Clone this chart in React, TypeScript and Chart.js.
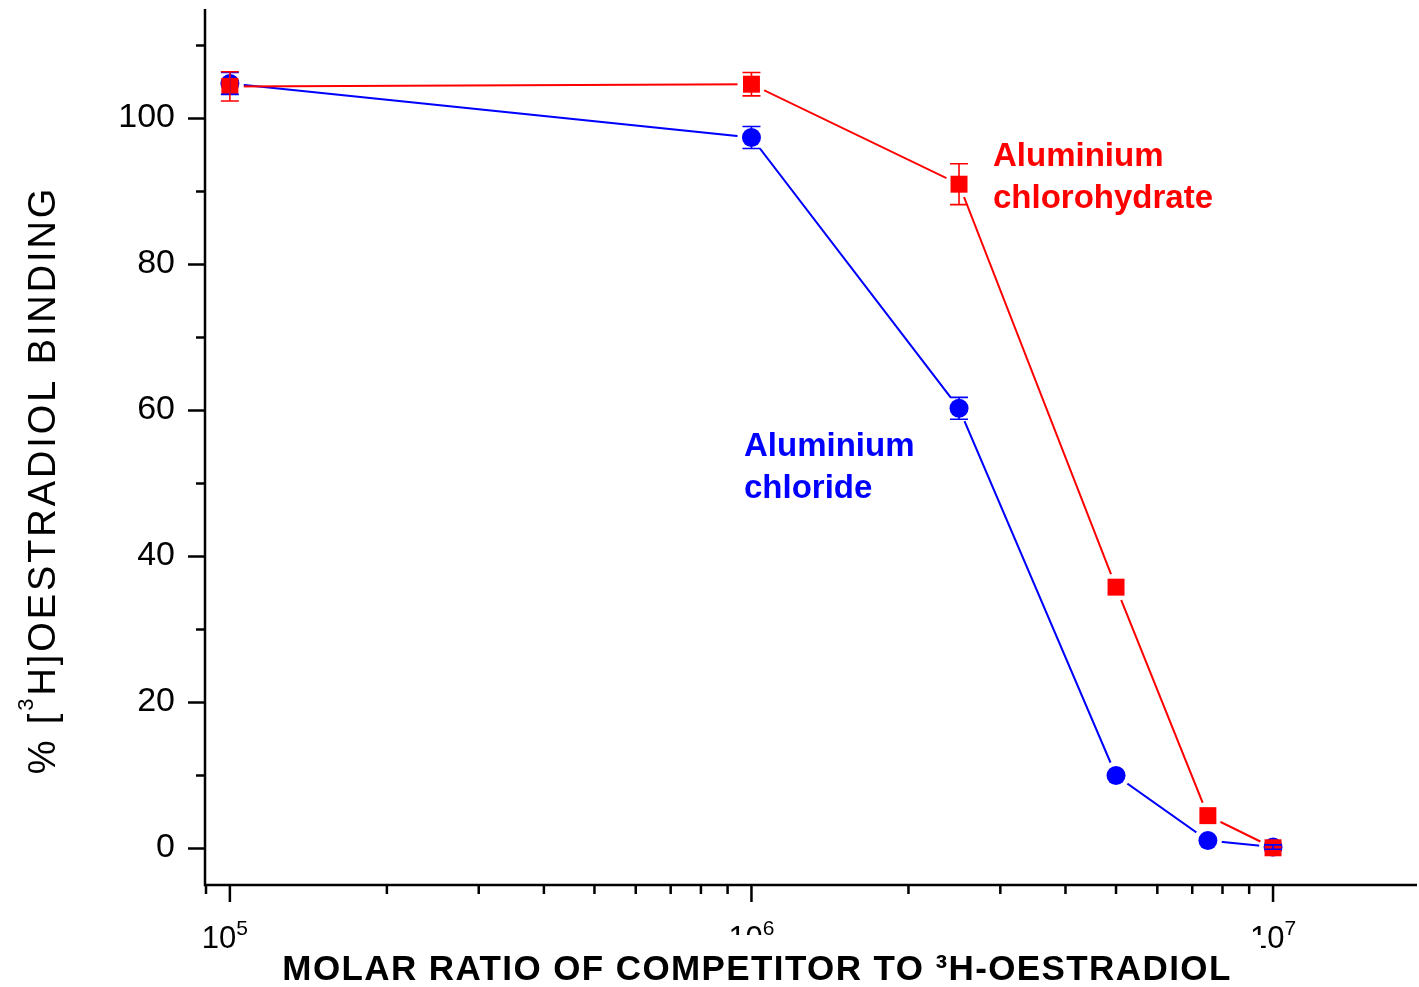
import React, { useEffect, useRef } from "react";
import { Chart, registerables } from "chart.js";

Chart.register(...registerables);

// ---- Data ----
const ratios = [1e5, 1e6, 2.5e6, 5e6, 7.5e6, 1e7];
const chlorohydrate = [104.4, 104.7, 91.0, 35.8, 4.5, 0.1];
const chlorohydrateErr = [2.0, 1.6, 2.8, 0, 0, 0];
const chloride = [104.8, 97.4, 60.3, 10.0, 1.1, 0.2];
const chlorideErr = [1.5, 1.5, 1.5, 0, 0, 0.3];

const xMajorTicks = [1e5, 1e6, 1e7];
const xTickExponents = ["5", "6", "7"];
const xMinorTicks = [
  9e4, 2e5, 3e5, 4e5, 5e5, 6e5, 7e5, 8e5, 9e5,
  2e6, 3e6, 4e6, 5e6, 6e6, 7e6, 8e6, 9e6,
];
const yMajorTicks = [0, 20, 40, 60, 80, 100];
const yMinorTicks = [10, 30, 50, 70, 90, 110];

const xTitle = "MOLAR RATIO OF COMPETITOR TO \u00B3H-OESTRADIOL";
const yTitleParts = ["% [", "3", "H]OESTRADIOL BINDING"];
const labelChlorohydrate = ["Aluminium", "chlorohydrate"];
const labelChloride = ["Aluminium", "chloride"];

const RED = "#ff0000";
const BLUE = "#0000ff";
const FONT = '"Liberation Sans", Arial, Helvetica, sans-serif';
const GAP = 14;

const seriesPoints = (vals: number[]) => ratios.map((r, i) => ({ x: r, y: vals[i] }));

// Lines stop short of the markers (gap around each point)
const lineGapPlugin = {
  id: "lineGap",
  beforeDatasetDraw(chart: any, args: any) {
    const ds = chart.data.datasets[args.index] as any;
    if (!ds.isLine) return;
    const { ctx, scales } = chart;
    ctx.save();
    ctx.beginPath();
    ctx.rect(0, 0, chart.width, chart.height);
    const vals: number[] = ds.sourceVals;
    vals.forEach((v, i) => {
      const px = scales.x.getPixelForValue(ratios[i]);
      const py = scales.y.getPixelForValue(v);
      ctx.moveTo(px + GAP, py);
      ctx.arc(px, py, GAP, 0, Math.PI * 2);
    });
    ctx.clip("evenodd");
  },
  afterDatasetDraw(chart: any, args: any) {
    const ds = chart.data.datasets[args.index] as any;
    if (!ds.isLine) return;
    chart.ctx.restore();
  },
};

const errorBarPlugin = {
  id: "errorBars",
  afterDatasetsDraw(chart: any) {
    const { ctx, scales } = chart;
    const x = scales.x;
    const y = scales.y;
    const sets = [
      { vals: chloride, errs: chlorideErr, color: BLUE },
      { vals: chlorohydrate, errs: chlorohydrateErr, color: RED },
    ];
    ctx.save();
    ctx.lineWidth = 1.6;
    for (const s of sets) {
      ctx.strokeStyle = s.color;
      s.vals.forEach((v, i) => {
        const e = s.errs[i];
        if (!e) return;
        const px = x.getPixelForValue(ratios[i]);
        const pt = y.getPixelForValue(v + e);
        const pb = y.getPixelForValue(v - e);
        ctx.beginPath();
        ctx.moveTo(px, pt);
        ctx.lineTo(px, pb);
        ctx.moveTo(px - 9, pt);
        ctx.lineTo(px + 9, pt);
        ctx.moveTo(px - 9, pb);
        ctx.lineTo(px + 9, pb);
        ctx.stroke();
      });
    }
    ctx.restore();
  },
};

const axesPlugin = {
  id: "axesDraw",
  afterDraw(chart: any) {
    const { ctx, chartArea: ca, scales } = chart;
    const x = scales.x;
    const y = scales.y;
    ctx.save();
    ctx.strokeStyle = "#000";
    ctx.fillStyle = "#000";
    ctx.lineWidth = 2.5;
    ctx.lineCap = "butt";
    ctx.beginPath();
    ctx.moveTo(ca.left, ca.top);
    ctx.lineTo(ca.left, ca.bottom + 1.25);
    ctx.moveTo(ca.left - 1.25, ca.bottom);
    ctx.lineTo(ca.right, ca.bottom);
    ctx.stroke();

    // y ticks
    ctx.beginPath();
    for (const v of yMajorTicks) {
      const py = y.getPixelForValue(v);
      ctx.moveTo(ca.left - 17, py);
      ctx.lineTo(ca.left, py);
    }
    for (const v of yMinorTicks) {
      const py = y.getPixelForValue(v);
      ctx.moveTo(ca.left - 9, py);
      ctx.lineTo(ca.left, py);
    }
    // x ticks
    for (const v of xMajorTicks) {
      const px = x.getPixelForValue(v);
      ctx.moveTo(px, ca.bottom);
      ctx.lineTo(px, ca.bottom + 17);
    }
    for (const v of xMinorTicks) {
      const px = x.getPixelForValue(v);
      ctx.moveTo(px, ca.bottom);
      ctx.lineTo(px, ca.bottom + 9);
    }
    ctx.stroke();

    // y tick labels
    ctx.font = `34px ${FONT}`;
    ctx.textAlign = "right";
    ctx.textBaseline = "middle";
    for (const v of yMajorTicks) {
      const py = y.getPixelForValue(v);
      ctx.fillText(String(v), ca.left - 30, py - 1);
    }

    // x tick labels 10^n
    ctx.textBaseline = "alphabetic";
    ctx.textAlign = "left";
    xMajorTicks.forEach((v, i) => {
      const px = x.getPixelForValue(v);
      ctx.font = `31px ${FONT}`;
      const wBase = ctx.measureText("10").width;
      ctx.font = `21px ${FONT}`;
      const wExp = ctx.measureText(xTickExponents[i]).width;
      const shift = i === 0 ? -5 : 0;
      const start = px - (wBase + wExp) / 2 + shift;
      ctx.font = `31px ${FONT}`;
      ctx.fillText("10", start, 948);
      ctx.font = `21px ${FONT}`;
      ctx.fillText(xTickExponents[i], start + wBase, 935);
    });

    // x title (its box hides part of the tick labels, as in the original)
    ctx.fillStyle = "#fff";
    ctx.fillRect(250, 935, 1011, 52);
    ctx.fillStyle = "#000";
    ctx.font = `bold 35px ${FONT}`;
    (ctx as any).letterSpacing = "1.4px";
    ctx.textAlign = "center";
    ctx.fillText(xTitle, 757, 980);

    // y title (rotated)
    ctx.save();
    ctx.translate(55, 480);
    ctx.rotate(-Math.PI / 2);
    ctx.textAlign = "left";
    (ctx as any).letterSpacing = "2.9px";
    ctx.font = `38px ${FONT}`;
    const w0 = ctx.measureText(yTitleParts[0]).width;
    const w2 = ctx.measureText(yTitleParts[2]).width;
    ctx.font = `22px ${FONT}`;
    const w1 = ctx.measureText(yTitleParts[1]).width;
    let cx = -(w0 + w1 + w2) / 2;
    ctx.font = `38px ${FONT}`;
    ctx.fillText(yTitleParts[0], cx, 0);
    cx += w0;
    ctx.font = `22px ${FONT}`;
    ctx.fillText(yTitleParts[1], cx, -22);
    cx += w1;
    ctx.font = `38px ${FONT}`;
    ctx.fillText(yTitleParts[2], cx, 0);
    ctx.restore();
    (ctx as any).letterSpacing = "0px";

    // annotations
    ctx.textAlign = "left";
    ctx.font = `bold 33px ${FONT}`;
    ctx.fillStyle = RED;
    ctx.fillText(labelChlorohydrate[0], 993, 166);
    ctx.fillText(labelChlorohydrate[1], 993, 208);
    ctx.fillStyle = BLUE;
    ctx.fillText(labelChloride[0], 744, 456);
    ctx.fillText(labelChloride[1], 744, 498);

    ctx.restore();
  },
};

export default function App() {
  const canvasRef = useRef<HTMLCanvasElement | null>(null);

  useEffect(() => {
    document.body.style.margin = "0";
    const canvas = canvasRef.current;
    if (!canvas) return;
    const lineCommon = {
      borderWidth: 2,
      pointRadius: 0,
      pointHoverRadius: 0,
      tension: 0,
      clip: false as any,
      isLine: true,
    };
    const pointCommon = {
      showLine: false,
      pointBorderWidth: 0,
      clip: false as any,
    };
    const chart = new Chart(canvas, {
      type: "line",
      data: {
        datasets: [
          {
            ...lineCommon,
            label: "Aluminium chloride (line)",
            data: seriesPoints(chloride),
            sourceVals: chloride,
            borderColor: BLUE,
            order: 4,
          } as any,
          {
            ...lineCommon,
            label: "Aluminium chlorohydrate (line)",
            data: seriesPoints(chlorohydrate),
            sourceVals: chlorohydrate,
            borderColor: RED,
            order: 3,
          } as any,
          {
            ...pointCommon,
            label: "Aluminium chloride",
            data: seriesPoints(chloride),
            pointStyle: "circle",
            pointRadius: 9.5,
            borderColor: BLUE,
            backgroundColor: BLUE,
            pointBackgroundColor: BLUE,
            order: 2,
          } as any,
          {
            ...pointCommon,
            label: "Aluminium chlorohydrate",
            data: seriesPoints(chlorohydrate),
            pointStyle: "rect",
            pointRadius: 12,
            borderColor: RED,
            backgroundColor: RED,
            pointBackgroundColor: RED,
            order: 1,
          } as any,
        ],
      },
      options: {
        responsive: false,
        animation: false,
        devicePixelRatio: 1,
        layout: { autoPadding: false, padding: { left: 205, top: 9, right: 2, bottom: 102 } },
        plugins: {
          legend: { display: false },
          tooltip: { enabled: false },
        },
        scales: {
          x: { type: "logarithmic", min: 89600, max: 1.888e7, display: false },
          y: { type: "linear", min: -5, max: 115, display: false },
        },
      },
      plugins: [lineGapPlugin, errorBarPlugin, axesPlugin],
    });
    return () => chart.destroy();
  }, []);

  return (
    <div style={{ width: 1419, height: 987, background: "#fff" }}>
      <canvas ref={canvasRef} width={1419} height={987} style={{ display: "block" }} />
    </div>
  );
}
